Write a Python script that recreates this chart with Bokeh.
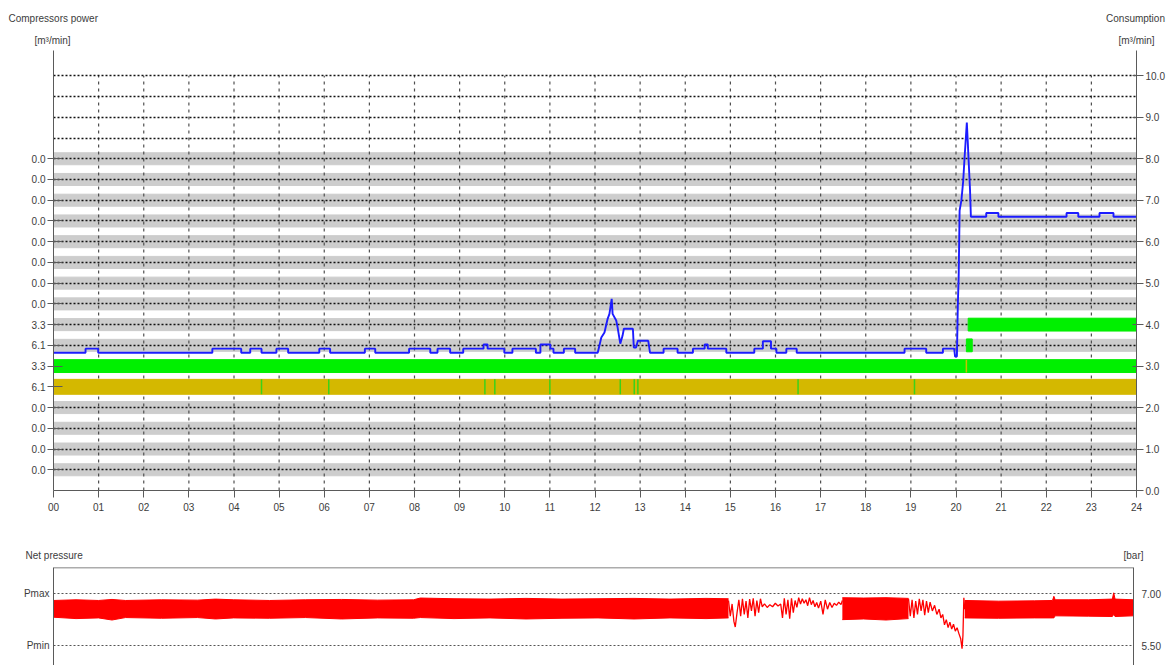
from bokeh.plotting import figure
from bokeh.models import (ColumnDataSource, FixedTicker, LinearAxis, Span,
                          Range1d, PrintfTickFormatter)
from bokeh.core.properties import value
from bokeh.layouts import column
from bokeh.embed import file_html
from bokeh.resources import INLINE

# ---------------- data ----------------
hours = list(range(25))
hour_labels = ["%02d" % h for h in hours]

# compressor rows (left axis) and their labels
compressor_rows = [0.5, 1.0, 1.5, 2.0, 2.5, 3.0, 3.5, 4.0, 4.5, 5.0, 5.5, 6.0, 6.5, 7.0, 7.5, 8.0]
compressor_labels = ["0.0", "0.0", "0.0", "0.0", "6.1", "3.3", "6.1", "3.3",
                     "0.0", "0.0", "0.0", "0.0", "0.0", "0.0", "0.0", "0.0"]
grid_rows = [0.5, 1.0, 1.5, 2.0, 2.5, 3.0, 3.5, 4.0, 4.5, 5.0, 5.5, 6.0, 6.5, 7.0,
             7.5, 8.0, 8.5, 9.0, 9.5, 10.0]
consumption_ticks = [0, 1, 2, 3, 4, 5, 6, 7, 8, 9, 10]

# compressor running bars: row, start hour, end hour, colour
bar_rows = [2.5, 3.0, 3.5, 4.0]
bar_start = [0.0, 0.0, 20.23, 20.27]
bar_end = [24.0, 24.0, 20.36, 24.0]
bar_height = [0.36, 0.31, 0.31, 0.31]
bar_colors = ["#d4b800", "#00f000", "#00f000", "#00f000"]

# short switch marks inside the gold row (green) and green row (gold)
gold_row_marks = [4.61, 6.10, 9.56, 9.78, 11.0, 12.56, 12.87, 12.95, 16.50, 19.08]
green_row_marks = [20.23]

# consumption [m3/min] (hour, value)
consumption = [
    (0.00, 3.32), (0.71, 3.32), (0.71, 3.42), (0.99, 3.42), (0.99, 3.32),
    (3.52, 3.32), (3.52, 3.42), (4.16, 3.42), (4.16, 3.32),
    (4.36, 3.32), (4.36, 3.42), (4.61, 3.42), (4.61, 3.32),
    (4.94, 3.32), (4.94, 3.42), (5.20, 3.42), (5.20, 3.32),
    (5.89, 3.32), (5.89, 3.42), (6.13, 3.42), (6.13, 3.32),
    (6.90, 3.32), (6.90, 3.42), (7.13, 3.42), (7.13, 3.32),
    (7.88, 3.32), (7.88, 3.42), (8.35, 3.42), (8.35, 3.32),
    (8.51, 3.32), (8.51, 3.42), (8.79, 3.42), (8.79, 3.32),
    (9.08, 3.32), (9.08, 3.42), (9.53, 3.42), (9.53, 3.52), (9.62, 3.52), (9.62, 3.42),
    (9.99, 3.42), (9.99, 3.32),
    (10.17, 3.32), (10.17, 3.42), (10.69, 3.42), (10.69, 3.32),
    (10.79, 3.32), (10.79, 3.52), (11.01, 3.52), (11.01, 3.42), (11.08, 3.42), (11.08, 3.32),
    (11.31, 3.32), (11.31, 3.42), (11.56, 3.42), (11.56, 3.32),
    (12.06, 3.32), (12.14, 3.69), (12.21, 3.81), (12.28, 4.14), (12.32, 4.26), (12.37, 4.62),
    (12.39, 4.26), (12.47, 4.10), (12.50, 3.94), (12.56, 3.54), (12.61, 3.73), (12.64, 3.90),
    (12.84, 3.90), (12.86, 3.45), (12.91, 3.45), (12.95, 3.61), (13.18, 3.61), (13.22, 3.32),
    (13.52, 3.32), (13.52, 3.42), (13.83, 3.42), (13.83, 3.32),
    (14.17, 3.32), (14.17, 3.42), (14.43, 3.42), (14.43, 3.52), (14.50, 3.52), (14.50, 3.42),
    (14.91, 3.42), (14.91, 3.32),
    (15.53, 3.32), (15.53, 3.42), (15.72, 3.42), (15.72, 3.60), (15.90, 3.60), (15.90, 3.42),
    (16.02, 3.42), (16.02, 3.32),
    (16.24, 3.32), (16.24, 3.42), (16.47, 3.42), (16.47, 3.32),
    (18.86, 3.32), (18.86, 3.42), (19.34, 3.42), (19.34, 3.32),
    (19.71, 3.32), (19.71, 3.42), (19.96, 3.42), (19.98, 3.23), (20.02, 3.23), (20.04, 4.45),
    (20.06, 5.20), (20.08, 6.75), (20.12, 7.00), (20.16, 7.47), (20.19, 8.03), (20.21, 8.36),
    (20.24, 8.87), (20.26, 8.43), (20.28, 7.95), (20.31, 7.27), (20.33, 6.60),
    (20.67, 6.60), (20.67, 6.69), (20.94, 6.69), (20.94, 6.60),
    (22.45, 6.60), (22.45, 6.69), (22.71, 6.69), (22.71, 6.60),
    (23.18, 6.60), (23.18, 6.69), (23.49, 6.69), (23.49, 6.60), (24.00, 6.60),
]

# net pressure [bar]: dense (noisy) stretches as envelopes (hour, high, low)
pressure_band_a = [
    (0.0, 6.80, 6.32), (0.5, 6.82, 6.28), (1.0, 6.80, 6.30), (1.3, 6.83, 6.24),
    (1.6, 6.80, 6.31), (2.4, 6.82, 6.29), (3.2, 6.81, 6.31), (3.6, 6.84, 6.27),
    (4.0, 6.82, 6.30), (4.8, 6.80, 6.29), (5.6, 6.82, 6.31), (6.4, 6.83, 6.27),
    (7.2, 6.81, 6.30), (8.0, 6.82, 6.29), (8.15, 6.87, 6.31), (8.9, 6.85, 6.28),
    (9.7, 6.84, 6.30), (10.5, 6.86, 6.27), (11.3, 6.84, 6.29), (12.1, 6.85, 6.30),
    (12.9, 6.86, 6.27), (13.7, 6.84, 6.30), (14.5, 6.86, 6.28), (15.0, 6.85, 6.30),
]
pressure_band_b = [(17.53, 6.88, 6.25), (18.0, 6.87, 6.27), (18.5, 6.88, 6.24), (19.0, 6.86, 6.28)]
pressure_band_c = [
    (20.25, 6.80, 6.30), (21.0, 6.78, 6.29), (21.8, 6.79, 6.30), (22.2, 6.80, 6.30),
    (22.23, 6.92, 6.30), (22.26, 6.82, 6.36), (23.0, 6.82, 6.35), (23.53, 6.84, 6.34),
    (23.56, 7.02, 6.40), (23.59, 6.84, 6.34), (24.0, 6.82, 6.36),
]
# sparse stretches as a trace (hour, value)
pressure_trace_a = [
    (15.00, 6.80), (15.04, 6.35), (15.08, 6.70), (15.12, 6.20), (15.15, 6.04), (15.19, 6.45),
    (15.23, 6.82), (15.27, 6.35), (15.31, 6.85), (15.35, 6.40), (15.39, 6.78), (15.43, 6.30),
    (15.47, 6.84), (15.51, 6.50), (15.55, 6.86), (15.59, 6.35), (15.63, 6.80), (15.67, 6.45),
    (15.71, 6.85), (15.75, 6.62), (15.80, 6.70), (15.86, 6.60), (15.92, 6.68), (15.98, 6.62),
    (16.04, 6.72), (16.10, 6.64), (16.16, 6.70), (16.20, 6.30), (16.24, 6.86), (16.28, 6.40),
    (16.32, 6.82), (16.36, 6.28), (16.40, 6.86), (16.44, 6.45), (16.48, 6.80), (16.52, 6.60),
    (16.56, 6.88), (16.60, 6.70), (16.64, 6.85), (16.68, 6.72), (16.72, 6.82), (16.76, 6.65),
    (16.80, 6.88), (16.84, 6.68), (16.88, 6.80), (16.92, 6.62), (16.96, 6.74), (17.00, 6.58),
    (17.05, 6.78), (17.10, 6.40), (17.15, 6.82), (17.20, 6.55), (17.25, 6.74), (17.30, 6.60),
    (17.35, 6.72), (17.40, 6.66), (17.45, 6.75), (17.50, 6.68), (17.53, 6.80),
]
pressure_trace_b = [
    (19.00, 6.85), (19.04, 6.35), (19.08, 6.82), (19.12, 6.30), (19.16, 6.78), (19.20, 6.40),
    (19.24, 6.85), (19.28, 6.50), (19.32, 6.82), (19.36, 6.38), (19.40, 6.78), (19.44, 6.45),
    (19.48, 6.75), (19.53, 6.50), (19.58, 6.66), (19.63, 6.40), (19.68, 6.55), (19.72, 6.30),
    (19.76, 6.40), (19.80, 6.10), (19.84, 6.25), (19.88, 6.02), (19.92, 6.18), (19.96, 5.98),
    (20.00, 6.12), (20.04, 5.92), (20.08, 6.02), (20.12, 5.85), (20.16, 5.70), (20.19, 5.42),
    (20.21, 5.80), (20.23, 6.88), (20.25, 6.55),
]
pressure_ticks = [5.5, 7.0]
pressure_left_labels = ["Pmin", "Pmax"]
pressure_right_labels = ["5.50", "7.00"]

# ---------------- style ----------------
FONT = "Liberation Sans"
TXT = "#3c3c3c"
AX = "#5a5a5a"
FS = "10px"
W = 1168


def style_axis(ax):
    ax.axis_line_color = AX
    ax.major_tick_line_color = AX
    ax.minor_tick_line_color = None
    ax.major_label_text_font = FONT
    ax.major_label_text_font_size = FS
    ax.major_label_text_color = TXT


def header(height, texts):
    """A strip that only carries the panel captions (pixel coordinates)."""
    h = figure(width=W, height=height, output_backend="svg", toolbar_location=None,
               x_range=Range1d(0, W), y_range=Range1d(0, height), title=None,
               x_axis_location=None, y_axis_location=None,
               min_border=0, min_border_left=0, min_border_right=0,
               min_border_top=0, min_border_bottom=0, frame_align=False)
    h.outline_line_color = None
    h.xgrid.visible = False
    h.ygrid.visible = False
    for (tx, ty, t, al) in texts:
        h.text(x=[tx], y=[ty], text=[t], text_align=al, text_baseline="middle",
               text_font=value(FONT), text_font_size=FS, text_color=TXT)
    return h


# ---------------- top chart ----------------
head1 = header(50, [(8, 32, "Compressors power", "left"),
                    (52, 10, "[m³/min]", "center"),
                    (1135, 32, "Consumption", "center"),
                    (1136, 10, "[m³/min]", "center")])

p1 = figure(width=W, height=480, output_backend="svg", toolbar_location=None, title=None,
            x_range=Range1d(0, 24), y_range=Range1d(0, 10.61), frame_align=False,
            min_border_left=53, min_border_right=32, min_border_top=0, min_border_bottom=40)
p1.outline_line_color = None
p1.xgrid.visible = False
p1.ygrid.ticker = FixedTicker(ticks=grid_rows)
p1.ygrid.grid_line_color = "#111111"
p1.ygrid.grid_line_dash = "2 2"
p1.ygrid.grid_line_width = 1.3

xa = p1.xaxis[0]
style_axis(xa)
xa.ticker = FixedTicker(ticks=hours)
xa.major_label_overrides = {h: l for h, l in zip(hours, hour_labels)}
xa.major_tick_in = 0
xa.major_tick_out = 7
xa.major_label_standoff = 5

ya = p1.yaxis[0]
style_axis(ya)
ya.ticker = FixedTicker(ticks=compressor_rows)
ya.major_label_overrides = {r: l for r, l in zip(compressor_rows, compressor_labels)}
ya.major_tick_in = 9
ya.major_tick_out = 6
ya.major_label_standoff = 2

yr = LinearAxis(ticker=FixedTicker(ticks=consumption_ticks),
                formatter=PrintfTickFormatter(format="%.1f"))
style_axis(yr)
yr.major_tick_in = 4
yr.major_tick_out = 7
yr.major_label_standoff = 2
p1.add_layout(yr, "right")

# gray compressor bands (under the grid)
p1.hbar(y=compressor_rows, left=0, right=24, height=0.29, color="#cdcdcd", level="image")
# hour grid lines
p1.segment(x0=hours[1:-1], y0=0, x1=hours[1:-1], y1=max(grid_rows),
           line_color="#505050", line_dash="3 4", line_width=1.2, level="underlay")
# running bars
bars = ColumnDataSource(dict(y=bar_rows, left=bar_start, right=bar_end,
                             h=bar_height, c=bar_colors))
p1.hbar(y="y", left="left", right="right", height="h", color="c", source=bars)
# switch marks
g_lo = bar_rows[0] - bar_height[0] / 2
g_hi = bar_rows[0] + bar_height[0] / 2
p1.segment(x0=gold_row_marks, y0=g_lo, x1=gold_row_marks, y1=g_hi,
           line_color="#3ad21a", line_width=1.5)
n_lo = bar_rows[1] - bar_height[1] / 2
n_hi = bar_rows[1] + bar_height[1] / 2
p1.segment(x0=green_row_marks, y0=n_lo, x1=green_row_marks, y1=n_hi,
           line_color="#c8c000", line_width=1.5)
# consumption line
ch, cv = zip(*consumption)
p1.line(list(ch), list(cv), line_color="#1c1cff", line_width=1.9)

# ---------------- bottom chart ----------------
head2 = header(37, [(25, 12, "Net pressure", "left"),
                    (1133, 12, "[bar]", "center")])

p2 = figure(width=W, height=98, output_backend="svg", toolbar_location=None, title=None,
            x_range=p1.x_range, y_range=Range1d(4.935, 7.746), x_axis_location=None,
            frame_align=False,
            min_border_left=53, min_border_right=35, min_border_top=0, min_border_bottom=0)
p2.outline_line_color = None
p2.xgrid.visible = False
p2.ygrid.ticker = FixedTicker(ticks=pressure_ticks)
p2.ygrid.grid_line_color = "#555555"
p2.ygrid.grid_line_dash = "2 2"
p2.ygrid.grid_line_width = 1.2

pa = p2.yaxis[0]
style_axis(pa)
pa.ticker = FixedTicker(ticks=pressure_ticks)
pa.major_label_overrides = {t: l for t, l in zip(pressure_ticks, pressure_left_labels)}
pa.major_tick_in = 0
pa.major_tick_out = 0
pa.major_label_standoff = 4

pr = LinearAxis(ticker=FixedTicker(ticks=pressure_ticks))
style_axis(pr)
pr.major_label_overrides = {t: l for t, l in zip(pressure_ticks, pressure_right_labels)}
pr.major_tick_in = 0
pr.major_tick_out = 0
pr.major_label_standoff = 8
p2.add_layout(pr, "right")

p2.add_layout(Span(location=p2.y_range.end, dimension="width", line_color=AX, line_width=1.5))

for band in (pressure_band_a, pressure_band_b, pressure_band_c):
    bh, bhi, blo = zip(*band)
    p2.varea(x=list(bh), y1=list(blo), y2=list(bhi), fill_color="#ff0000")
    p2.line(list(bh), list(bhi), line_color="#ff0000", line_width=1)
    p2.line(list(bh), list(blo), line_color="#ff0000", line_width=1)
for tr in (pressure_trace_a, pressure_trace_b):
    th, tv = zip(*tr)
    p2.line(list(th), list(tv), line_color="#ff0000", line_width=1.3)

layout = column(head1, p1, head2, p2, spacing=0)
open("out.html", "w").write(file_html(layout, INLINE))
